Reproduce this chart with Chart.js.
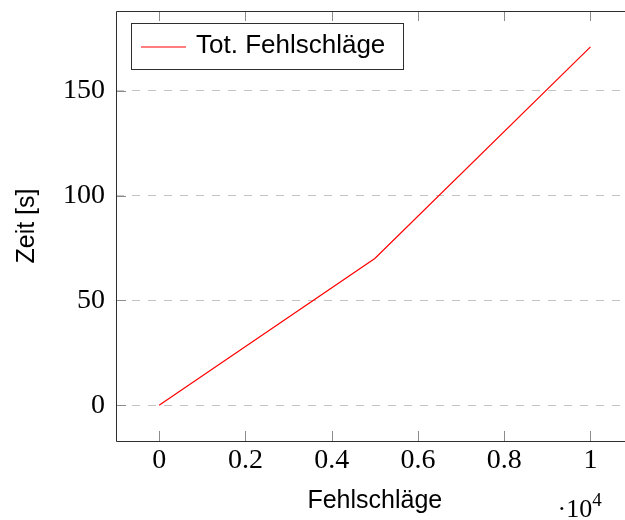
<!DOCTYPE html>
<html>
<head>
<meta charset="utf-8">
<script src="https://cdn.jsdelivr.net/npm/chart.js@4.4.1/dist/chart.umd.min.js"></script>
<style>
  html, body { margin: 0; padding: 0; background: #ffffff; }
  canvas { display: block; }
</style>
</head>
<body>
<canvas id="chart" width="625" height="520"></canvas>
<script>
// Measured run: total time over number of failures
const failures = [0, 5000, 10000];
const seconds = [0, 70, 171];

// Axis ticks and labels
const xTicks = [0, 2000, 4000, 6000, 8000, 10000];
const yTicks = [0, 50, 100, 150];
const xExponent = 4;
const seriesLabel = 'Tot. Fehlschläge';
const xTitle = 'Fehlschläge';
const yTitle = 'Zeit [s]';

const SERIF = '"Liberation Serif", "DejaVu Serif", serif';
const SANS = '"Liberation Sans", "DejaVu Sans", sans-serif';
const FRAME = '#2e2e2e';
const TICK = '#8c8c8c';
const GRID = '#c4c4c4';

// Frame, inward tick marks, axis titles, exponent label and legend
const decorations = {
  id: 'decorations',
  afterDatasetsDraw(chart) {
    const { ctx, chartArea: a, scales } = chart;
    const xs = scales.x, ys = scales.y;
    ctx.save();

    // inward tick marks
    ctx.strokeStyle = TICK;
    ctx.lineWidth = 1;
    ctx.beginPath();
    xTicks.forEach(v => {
      const px = Math.round(xs.getPixelForValue(v)) + 0.5;
      ctx.moveTo(px, a.bottom); ctx.lineTo(px, a.bottom - 10);
      ctx.moveTo(px, a.top); ctx.lineTo(px, a.top + 10);
    });
    yTicks.forEach(v => {
      const py = Math.round(ys.getPixelForValue(v)) + 0.5;
      ctx.moveTo(a.left, py); ctx.lineTo(a.left + 10, py);
    });
    ctx.stroke();

    // axis frame (left, bottom, top)
    ctx.strokeStyle = FRAME;
    ctx.lineWidth = 1;
    ctx.beginPath();
    ctx.moveTo(a.right, a.top + 0.5); ctx.lineTo(a.left + 0.5, a.top + 0.5);
    ctx.lineTo(a.left + 0.5, a.bottom + 0.5); ctx.lineTo(a.right, a.bottom + 0.5);
    ctx.stroke();

    // axis titles
    ctx.fillStyle = '#000';
    ctx.font = '25px ' + SANS;
    ctx.textAlign = 'center';
    ctx.textBaseline = 'alphabetic';
    ctx.fillText(xTitle, xs.getPixelForValue((xs.min + 11000) / 2), 508);
    ctx.save();
    ctx.translate(34, (a.top + a.bottom) / 2);
    ctx.rotate(-Math.PI / 2);
    ctx.fillText(yTitle, 0, 0);
    ctx.restore();

    // exponent label under the last tick
    const ex = xs.getPixelForValue(xTicks[xTicks.length - 1]);
    ctx.textAlign = 'left';
    ctx.font = '26px ' + SERIF;
    ctx.fillText('·10', ex - 33, 517);
    const w = ctx.measureText('·10').width;
    ctx.font = '19px ' + SERIF;
    ctx.fillText(String(xExponent), ex - 33 + w, 506);

    // legend box
    const ds = chart.data.datasets[0];
    ctx.fillStyle = '#fff';
    ctx.fillRect(131.5, 23.5, 272, 46);
    ctx.strokeStyle = FRAME;
    ctx.strokeRect(131.5, 23.5, 272, 46);
    ctx.strokeStyle = ds.borderColor;
    ctx.lineWidth = ds.borderWidth;
    ctx.beginPath();
    ctx.moveTo(141, 47); ctx.lineTo(186, 47);
    ctx.stroke();
    ctx.fillStyle = '#000';
    ctx.font = '26px ' + SANS;
    ctx.textBaseline = 'middle';
    ctx.fillText(ds.label, 196, 46);

    ctx.restore();
  }
};

new Chart(document.getElementById('chart'), {
  type: 'line',
  data: {
    datasets: [{
      label: seriesLabel,
      data: failures.map((f, i) => ({ x: f, y: seconds[i] })),
      borderColor: '#ff0000',
      borderWidth: 1.2,
      pointRadius: 0,
      tension: 0,
      fill: false
    }]
  },
  options: {
    responsive: false,
    devicePixelRatio: 1,
    animation: false,
    layout: { padding: { top: 11, right: 0, left: 0, bottom: 0 } },
    plugins: { legend: { display: false }, tooltip: { enabled: false } },
    scales: {
      x: {
        type: 'linear',
        min: -1000,
        max: 10800,
        afterBuildTicks: s => { s.ticks = xTicks.map(v => ({ value: v })); },
        afterFit: s => { s.height = 79; s.paddingLeft = 0; s.paddingRight = 0; },
        grid: { display: false, drawTicks: false },
        border: { display: false },
        ticks: {
          padding: 3,
          color: '#000',
          font: { family: SERIF, size: 28 },
          callback: v => String(v / Math.pow(10, xExponent))
        }
      },
      y: {
        type: 'linear',
        min: -17.1,
        max: 188.1,
        afterBuildTicks: s => { s.ticks = yTicks.map(v => ({ value: v })); },
        afterFit: s => { s.width = 116; s.paddingTop = 0; s.paddingBottom = 0; },
        grid: { color: GRID, lineWidth: 1, drawTicks: false },
        border: { display: false, dash: [8, 8] },
        ticks: {
          padding: 11,
          color: '#000',
          font: { family: SERIF, size: 28 },
          callback: v => String(v)
        }
      }
    }
  },
  plugins: [decorations]
});
</script>
</body>
</html>
